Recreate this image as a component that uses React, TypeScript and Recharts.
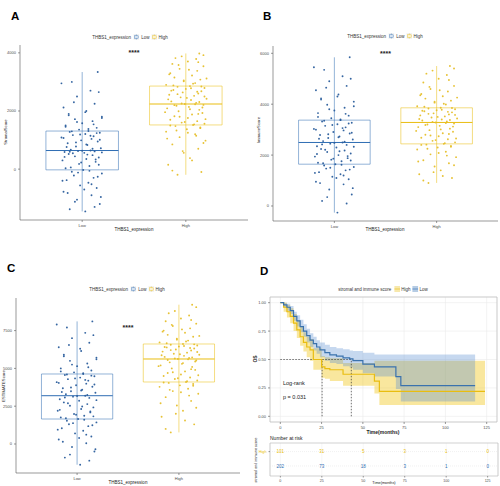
import {
  Area,
  CartesianGrid,
  ComposedChart,
  Line,
  ReferenceArea,
  ReferenceDot,
  ReferenceLine,
  Scatter,
  ScatterChart,
  XAxis,
  YAxis,
} from 'recharts';

const FONT = '"Liberation Sans", Arial, sans-serif';
const BLUE = '#2f6db3';
const BLUE_PT = '#2a5d9c';
const YELLOW = '#e9bd10';
const YELLOW_PT = '#e6bf2a';

const GROUPS = ['Low', 'High'];

// horizontal jitter of each point, in category units
const JIT_LOW = [0.03, -0.12, 0.17, -0.05, 0.09, -0.18, 0.14, -0.02, 0.06, -0.15, 0.11, -0.08, 0.19, -0.1, 0.01,
  -0.16, 0.07, -0.03, 0.13, -0.19, 0.04, 0.16, -0.07, 0.1, -0.13, 0.02, -0.17, 0.12, -0.04, 0.08,
  -0.11, 0.18, -0.06, 0.05, -0.14, 0.15, -0.01, 0.09, -0.2, 0.11, -0.09, 0.03, 0.17, -0.12, 0.06,
  -0.03, 0.14, -0.16, 0.0, 0.1, -0.07, 0.19, -0.13, 0.04, -0.18, 0.12, -0.05, 0.08, -0.1, 0.15,
  0.12, -0.07, 0.18, -0.14, 0.02, 0.09, -0.19, 0.15, -0.04, 0.07, -0.11, 0.16, -0.01, 0.13, -0.17,
  0.05, -0.09, 0.19, -0.12, 0.0, 0.1, -0.15, 0.04, -0.06, 0.17, -0.18, 0.08, -0.02, 0.14, -0.1,
  0.06, -0.16, 0.11, -0.05, 0.19, -0.13, 0.03, -0.08, 0.16, -0.2];
const JIT_HIGH = [-0.08, 0.15, -0.17, 0.04, -0.02, 0.12, -0.13, 0.19, -0.06, 0.09, -0.19, 0.01, 0.14, -0.1, 0.07,
  0.18, -0.04, 0.11, -0.15, 0.02, -0.11, 0.06, 0.16, -0.07, 0.13, -0.18, 0.03, -0.09, 0.17, -0.01,
  0.1, -0.14, 0.05, 0.2, -0.05, 0.08, -0.16, 0.12, -0.03, 0.15, -0.12, 0.0, 0.18, -0.08, 0.04,
  -0.19, 0.09, -0.02, 0.14, -0.11, 0.06, -0.15, 0.11, -0.06, 0.17, -0.13, 0.02, 0.1, -0.04, 0.13,
  -0.13, 0.06, -0.03, 0.17, -0.18, 0.1, 0.02, -0.09, 0.14, -0.15, 0.08, -0.01, 0.19, -0.06, 0.12,
  -0.2, 0.04, 0.16, -0.11, 0.09, -0.04, 0.13, -0.17, 0.01, 0.18, -0.08, 0.11, -0.14, 0.05, 0.15,
  -0.12, 0.07, -0.02, 0.2, -0.16, 0.03, -0.07, 0.12, -0.1, 0.17];

// StromalScore
const STROMAL_LOW = [-1455, -1380, -1200, -1050, -900, -780, -650, -560, -470, -380, -300, -220, -150, -90, -30,
  30, 110, 180, 250, 300, 350, 400, 440, 480, 520, 560, 590, 610, 625, 640,
  670, 720, 780, 830, 890, 950, 990, 1040, 1090, 1130, 1170, 1210, 1250, 1280, 1310,
  1360, 1420, 1500, 1580, 1650, 1720, 1800, 1900, 2000, 2120, 2250, 2500, 2700, 3000, 3340,
  -1300, -1120, -960, -820, -700, -520, -400, -260, -120, -60, 60, 150, 230, 330, 420, 500, 545, 575, 600, 630,
  700, 760, 850, 920, 1010, 1070, 1150, 1190, 1240, 1300, 1380, 1460, 1540, 1620, 1760, 1850, 1960, 2300, 2650, 2950];
const STROMAL_HIGH = [-195, -100, 150, 380, 560, 700, 850, 980, 1100, 1200, 1290, 1370, 1430, 1480, 1520,
  1560, 1600, 1650, 1700, 1760, 1820, 1880, 1930, 1990, 2040, 2090, 2140, 2180, 2210, 2240,
  2280, 2330, 2380, 2420, 2470, 2520, 2560, 2600, 2640, 2680, 2720, 2760, 2790, 2830, 2857,
  2900, 2960, 3020, 3080, 3150, 3220, 3300, 3380, 3450, 3540, 3620, 3700, 3790, 3880, 3980,
  -50, 300, 620, 900, 1050, 1150, 1250, 1330, 1410, 1500, 1540, 1620, 1720, 1800, 1900, 1960, 2060, 2120, 2200, 2230,
  2260, 2310, 2400, 2450, 2500, 2580, 2660, 2700, 2780, 2840, 2880, 2940, 3050, 3120, 3260, 3420, 3580, 3680, 3820, 3920];
const STROMAL_LOW_BOX = [-1455, -25, 640, 1310, 3340];
const STROMAL_HIGH_BOX = [-195, 1520, 2240, 2857, 3980];

// ImmuneScore
const IMMUNE_LOW = [-260, 200, 450, 650, 850, 950, 1050, 1150, 1250, 1330, 1400, 1470, 1530, 1590, 1642,
  1700, 1760, 1820, 1880, 1940, 2000, 2060, 2120, 2180, 2240, 2300, 2350, 2400, 2450, 2496,
  2550, 2610, 2670, 2730, 2790, 2850, 2910, 2970, 3030, 3090, 3150, 3210, 3270, 3320, 3374,
  3450, 3550, 3650, 3750, 3860, 3980, 4100, 4230, 4380, 4550, 4720, 4900, 5100, 5350, 5843,
  100, 350, 700, 900, 1100, 1200, 1300, 1430, 1500, 1620, 1680, 1790, 1860, 1960, 2040, 2150, 2210, 2330, 2420, 2480,
  2530, 2640, 2700, 2820, 2880, 3000, 3060, 3180, 3240, 3350, 3400, 3500, 3620, 3800, 3920, 4180, 4300, 4650, 5000, 5450];
const IMMUNE_HIGH = [906, 1100, 1250, 1400, 1550, 1680, 1800, 1920, 2030, 2130, 2220, 2300, 2360, 2410, 2441,
  2500, 2560, 2620, 2680, 2740, 2800, 2860, 2920, 2980, 3040, 3100, 3150, 3200, 3240, 3283,
  3320, 3360, 3400, 3440, 3480, 3520, 3560, 3600, 3640, 3680, 3720, 3760, 3800, 3830, 3858,
  3920, 3990, 4060, 4140, 4220, 4310, 4400, 4500, 4600, 4720, 4850, 5000, 5150, 5320, 5500,
  1000, 1180, 1330, 1600, 1750, 1980, 2080, 2250, 2330, 2400, 2470, 2590, 2650, 2770, 2830, 2950, 3010, 3120, 3180, 3260,
  3300, 3380, 3420, 3500, 3580, 3620, 3700, 3740, 3780, 3850, 3900, 4020, 4100, 4260, 4350, 4550, 4680, 4950, 5200, 5400];
const IMMUNE_LOW_BOX = [-260, 1642, 2496, 3374, 5843];
const IMMUNE_HIGH_BOX = [906, 2441, 3283, 3858, 5500];

// ESTIMATEScore
const ESTIMATE_LOW = [-1370, -900, -500, -200, 50, 300, 500, 700, 880, 1040, 1180, 1310, 1430, 1540, 1653,
  1760, 1870, 1980, 2090, 2200, 2310, 2420, 2530, 2640, 2750, 2860, 2960, 3050, 3130, 3194,
  3290, 3390, 3490, 3590, 3690, 3790, 3890, 3990, 4090, 4190, 4290, 4390, 4480, 4560, 4630,
  4740, 4860, 5000, 5150, 5320, 5500, 5700, 5900, 6150, 6400, 6700, 7000, 7350, 7700, 8108,
  -1100, -700, -350, 150, 400, 620, 950, 1240, 1380, 1600, 1700, 1830, 1930, 2150, 2260, 2480, 2700, 2900, 3080, 3170,
  3240, 3440, 3540, 3740, 3940, 4040, 4240, 4340, 4520, 4600, 4680, 4800, 5080, 5250, 5600, 5800, 6300, 6550, 7200, 7900];
const ESTIMATE_HIGH = [767, 1300, 1800, 2200, 2550, 2850, 3100, 3320, 3500, 3650, 3780, 3880, 3970, 4040, 4101,
  4200, 4300, 4400, 4500, 4600, 4700, 4800, 4900, 5000, 5100, 5200, 5300, 5400, 5520, 5622,
  5690, 5760, 5830, 5900, 5970, 6040, 6110, 6180, 6250, 6320, 6390, 6450, 6510, 6560, 6614,
  6720, 6840, 6960, 7090, 7220, 7360, 7500, 7650, 7800, 7960, 8120, 8300, 8500, 8800, 9213,
  1000, 1550, 2000, 2400, 2700, 3200, 3420, 3580, 3850, 4070, 4150, 4350, 4550, 4750, 4950, 5150, 5350, 5460, 5560, 5600,
  5650, 5730, 5870, 5940, 6080, 6210, 6350, 6420, 6480, 6590, 6660, 6780, 6900, 7150, 7430, 7580, 7880, 8200, 8650, 9050];
const ESTIMATE_LOW_BOX = [-1370, 1653, 3194, 4630, 8108];
const ESTIMATE_HIGH_BOX = [767, 4101, 5622, 6614, 9213];

// survival (OS) by stromal and immune score
const SURV_LOW_T = [0, 2, 4, 6, 8, 10, 12, 14, 16, 18, 20, 22, 24, 27, 30, 34, 38, 42, 44, 50, 57, 70, 73, 118];
const SURV_LOW_S = [1.0, 0.98, 0.96, 0.93, 0.88, 0.84, 0.79, 0.75, 0.71, 0.67, 0.64, 0.61, 0.585, 0.56, 0.54, 0.53, 0.515, 0.505, 0.49, 0.46, 0.435, 0.35, 0.27, 0.27];
const SURV_LOW_LO = [1.0, 0.96, 0.93, 0.9, 0.84, 0.79, 0.74, 0.7, 0.65, 0.61, 0.58, 0.55, 0.52, 0.49, 0.47, 0.46, 0.44, 0.43, 0.41, 0.38, 0.35, 0.24, 0.13, 0.13];
const SURV_LOW_HI = [1.0, 1.0, 0.99, 0.97, 0.92, 0.89, 0.85, 0.81, 0.77, 0.73, 0.7, 0.67, 0.65, 0.63, 0.61, 0.6, 0.59, 0.58, 0.575, 0.56, 0.545, 0.545, 0.545, 0.545];
const SURV_HIGH_T = [0, 2, 4, 6, 8, 10, 12, 14, 16, 18, 20, 25, 27, 30, 38, 57, 60, 124];
const SURV_HIGH_S = [1.0, 0.96, 0.92, 0.88, 0.82, 0.76, 0.7, 0.65, 0.61, 0.585, 0.5, 0.435, 0.42, 0.41, 0.37, 0.31, 0.22, 0.22];
const SURV_HIGH_LO = [1.0, 0.92, 0.87, 0.82, 0.75, 0.69, 0.62, 0.57, 0.52, 0.49, 0.41, 0.34, 0.33, 0.31, 0.27, 0.2, 0.1, 0.1];
const SURV_HIGH_HI = [1.0, 1.0, 0.98, 0.95, 0.9, 0.84, 0.79, 0.74, 0.7, 0.68, 0.6, 0.53, 0.52, 0.51, 0.47, 0.49, 0.49, 0.49];
const MEDIAN_TIMES = [25.3, 43];
const TIME_TICKS = [0, 25, 50, 75, 100, 125];
const RISK_HIGH = [101, 31, 5, 3, 1, 0];
const RISK_LOW = [202, 73, 18, 3, 1, 0];

const tickStyle = { fontSize: 4, fill: '#4d4d4d', fontFamily: FONT };
const axisLine = { stroke: '#555', strokeWidth: 0.6 };

function BoxKey({ color }: { color: string }) {
  return (
    <svg width={6} height={6} style={{ display: 'block' }}>
      <rect x={0} y={0} width={6} height={6} fill="#f2f2f2" />
      <line x1={3} y1={0.4} x2={3} y2={5.6} stroke={color} strokeWidth={0.4} />
      <rect x={1.2} y={1.8} width={3.6} height={2.4} fill="#fff" stroke={color} strokeWidth={0.4} />
      <line x1={1.2} y1={3} x2={4.8} y2={3} stroke={color} strokeWidth={0.4} />
    </svg>
  );
}

function FillKey({ color }: { color: string }) {
  return (
    <svg width={6} height={6} style={{ display: 'block' }}>
      <rect x={0} y={0} width={6} height={6} fill={color} fillOpacity={0.35} />
      <line x1={0} y1={3} x2={6} y2={3} stroke={color} strokeWidth={0.6} />
    </svg>
  );
}

function Legend({ x, y, title, items, fill }: { x: number; y: number; title: string; items: [string, string][]; fill?: boolean }) {
  return (
    <div style={{ position: 'absolute', left: x, top: y, transform: 'translate(-50%,-50%)', display: 'flex', alignItems: 'center', gap: 1.5, fontSize: 4.5, whiteSpace: 'nowrap', color: '#333' }}>
      <span style={{ marginRight: 1 }}>{title}</span>
      {items.map(([label, color]) => (
        <span key={label} style={{ display: 'flex', alignItems: 'center', gap: 1.5 }}>
          {fill ? <FillKey color={color} /> : <BoxKey color={color} />}
          <span>{label}</span>
        </span>
      ))}
    </div>
  );
}

function Txt({ x, y, children, size = 4.5, bold = false, rotate = false, anchor = 'center', color = '#222' }: any) {
  const tx = anchor === 'center' ? '-50%' : '0';
  return (
    <div style={{ position: 'absolute', left: x, top: y, transform: `translate(${tx},-50%)${rotate ? ' rotate(-90deg)' : ''}`, transformOrigin: anchor === 'center' ? 'center' : 'left center', fontSize: size, fontWeight: bold ? 700 : 400, whiteSpace: 'nowrap', color }}>
      {children}
    </div>
  );
}

function Letter({ x, y, children }: any) {
  return <div style={{ position: 'absolute', left: x, top: y, fontSize: 11.5, fontWeight: 700, lineHeight: 1 }}>{children}</div>;
}

const pointShape = (color: string) => (p: any) => <circle cx={p.cx} cy={p.cy} r={0.95} fill={color} fillOpacity={0.95} />;

function BoxPanel(props: any) {
  const { left, top, width, height, margin, yWidth, xHeight, domain, ticks, lowVals, highVals, lowBox, highBox, star, letter, letterPos, legendPos, yLabel, yLabelPos, xLabelPos } = props;
  const lowPts = lowVals.map((y: number, i: number) => ({ x: 1 + JIT_LOW[i], y }));
  const highPts = highVals.map((y: number, i: number) => ({ x: 2 + JIT_HIGH[i], y }));
  const boxes = [
    { b: lowBox, c: 1, color: BLUE },
    { b: highBox, c: 2, color: YELLOW },
  ];
  return (
    <div style={{ position: 'absolute', left, top, width, height }}>
      <ScatterChart width={width} height={height} margin={margin}>
        <XAxis type="number" dataKey="x" domain={[0.4, 2.6]} ticks={[1, 2]} tickFormatter={(v) => GROUPS[v - 1]} height={xHeight} tick={tickStyle} tickSize={2} axisLine={axisLine} tickLine={axisLine} allowDataOverflow />
        <YAxis type="number" dataKey="y" domain={domain} ticks={ticks} width={yWidth} tick={tickStyle} tickSize={2} axisLine={axisLine} tickLine={axisLine} allowDataOverflow />
        {boxes.map(({ b, c, color }) => (
          <ReferenceLine key={'w' + c} segment={[{ x: c, y: b[0] }, { x: c, y: b[4] }]} stroke={color} strokeWidth={0.7} strokeOpacity={0.75} />
        ))}
        {boxes.map(({ b, c, color }) => (
          <ReferenceArea key={'b' + c} x1={c - 0.35} x2={c + 0.35} y1={b[1]} y2={b[3]} fill="none" fillOpacity={0} stroke={color} strokeWidth={0.7} strokeOpacity={0.75} />
        ))}
        {boxes.map(({ b, c, color }) => (
          <ReferenceLine key={'m' + c} segment={[{ x: c - 0.35, y: b[2] }, { x: c + 0.35, y: b[2] }]} stroke={color} strokeWidth={1} />
        ))}
        <Scatter data={lowPts} shape={pointShape(BLUE_PT)} isAnimationActive={false} />
        <Scatter data={highPts} shape={pointShape(YELLOW_PT)} isAnimationActive={false} />
        <ReferenceDot x={1.5} y={star} r={0} label={{ value: '****', fontSize: 7, fontWeight: 700, fill: '#222', fontFamily: FONT }} />
      </ScatterChart>
      <Letter x={letterPos[0]} y={letterPos[1]}>{letter}</Letter>
      <Legend x={legendPos[0]} y={legendPos[1]} title="THBS1_expression" items={[['Low', BLUE], ['High', YELLOW]]} />
      <Txt x={yLabelPos[0]} y={yLabelPos[1]} rotate size={4.2}>{yLabel}</Txt>
      <Txt x={xLabelPos[0]} y={xLabelPos[1]}>THBS1_expression</Txt>
    </div>
  );
}

function SurvivalPanel() {
  const lowData = SURV_LOW_T.map((t, i) => ({ t, s: SURV_LOW_S[i], ci: [SURV_LOW_LO[i], SURV_LOW_HI[i]] }));
  const highData = SURV_HIGH_T.map((t, i) => ({ t, s: SURV_HIGH_S[i], ci: [SURV_HIGH_LO[i], SURV_HIGH_HI[i]] }));
  const dash = { stroke: '#333', strokeWidth: 0.7, strokeDasharray: '1.5 1.5' };
  return (
    <div style={{ position: 'absolute', left: 250, top: 240, width: 250, height: 200 }}>
      <ComposedChart width={250} height={200} margin={{ top: 57, right: 3, left: 0, bottom: 8 }}>
        <CartesianGrid stroke="#ebebeb" strokeWidth={0.6} />
        <XAxis type="number" dataKey="t" domain={[-6.25, 131.25]} ticks={TIME_TICKS} height={10} tick={tickStyle} tickSize={2} axisLine={false} tickLine={axisLine} allowDataOverflow />
        <YAxis type="number" domain={[-0.05, 1.05]} ticks={[0, 0.25, 0.5, 0.75, 1]} tickFormatter={(v) => v.toFixed(2)} width={20} tick={tickStyle} tickSize={2} axisLine={false} tickLine={axisLine} allowDataOverflow />
        <Area data={highData} dataKey="ci" type="stepAfter" fill="#efc000" fillOpacity={0.38} stroke="none" isAnimationActive={false} />
        <Area data={lowData} dataKey="ci" type="stepAfter" fill="#5b8fd0" fillOpacity={0.35} stroke="none" isAnimationActive={false} />
        <ReferenceLine segment={[{ x: 0, y: 0.5 }, { x: MEDIAN_TIMES[1], y: 0.5 }]} {...dash} />
        {MEDIAN_TIMES.map((m) => (
          <ReferenceLine key={m} segment={[{ x: m, y: 0 }, { x: m, y: 0.5 }]} {...dash} />
        ))}
        <Line data={highData} dataKey="s" type="stepAfter" stroke={YELLOW} strokeWidth={1.2} dot={false} isAnimationActive={false} />
        <Line data={lowData} dataKey="s" type="stepAfter" stroke="#3a72ad" strokeWidth={1.2} dot={false} isAnimationActive={false} />
        <ReferenceArea x1={-6.25} x2={131.25} y1={-0.05} y2={1.05} fill="none" fillOpacity={0} stroke="#bdbdbd" strokeWidth={0.7} />
      </ComposedChart>
      <Letter x={10} y={26}>D</Letter>
      <Legend x={133} y={49} title="stromal and immune score" items={[['High', YELLOW], ['Low', BLUE]]} fill />
      <Txt x={5} y={119} rotate bold size={5}>OS</Txt>
      <Txt x={133} y={192} bold size={5}>Time(months)</Txt>
      <Txt x={33} y={143} anchor="left" size={5.5}>Log-rank</Txt>
      <Txt x={33} y={157} anchor="left" size={5.5}>p = 0.031</Txt>
    </div>
  );
}

function RiskTable() {
  const rows = [
    ...RISK_HIGH.map((n, i) => ({ t: TIME_TICKS[i], y: 2, n, c: YELLOW })),
    ...RISK_LOW.map((n, i) => ({ t: TIME_TICKS[i], y: 1, n, c: BLUE })),
  ];
  const rowTick = (p: any) => (
    <text x={p.x} y={p.y} dy="0.35em" textAnchor="end" fontSize={3.8} fontFamily={FONT} fill={p.payload.value === 2 ? YELLOW : BLUE}>
      {p.payload.value === 2 ? 'High' : 'Low'}
    </text>
  );
  return (
    <div style={{ position: 'absolute', left: 250, top: 440, width: 250, height: 46 }}>
      <ScatterChart width={250} height={46} margin={{ top: 3, right: 2, left: 0, bottom: 0 }}>
        <CartesianGrid stroke="#eeeeee" strokeWidth={0.5} horizontal={false} />
        <XAxis type="number" dataKey="t" domain={[-6.25, 131.25]} ticks={TIME_TICKS} height={10} tick={{ ...tickStyle, fontSize: 3.6 }} tickSize={1.5} axisLine={false} tickLine={axisLine} allowDataOverflow />
        <YAxis type="number" dataKey="y" domain={[0.3, 2.6]} ticks={[1, 2]} width={20} tick={rowTick} tickSize={1.5} axisLine={false} tickLine={axisLine} allowDataOverflow />
        <ReferenceLine y={2} stroke="#e3e3e3" strokeWidth={0.5} strokeDasharray="1 1" />
        <ReferenceLine y={1} stroke="#e3e3e3" strokeWidth={0.5} strokeDasharray="1 1" />
        <Scatter
          data={rows}
          isAnimationActive={false}
          shape={(p: any) => (
            <text x={p.cx} y={p.cy} dy="0.35em" textAnchor="middle" fontSize={4.5} fontFamily={FONT} fill={p.payload.c}>
              {p.payload.n}
            </text>
          )}
        />
        <ReferenceArea x1={-6.25} x2={131.25} y1={0.3} y2={2.6} fill="none" fillOpacity={0} stroke="#bdbdbd" strokeWidth={0.7} />
      </ScatterChart>
      <Txt x={20} y={-2} anchor="left" size={5}>Number at risk</Txt>
      <Txt x={6} y={20} rotate size={3.8}>stromal and immune score</Txt>
      <Txt x={134} y={43} size={3.8}>Time(months)</Txt>
    </div>
  );
}

export default function App() {
  return (
    <div style={{ position: 'fixed', left: 0, top: 0, width: 500, height: 486, background: '#fff', fontFamily: FONT, overflow: 'hidden' }}>
      <BoxPanel
        left={0} top={0} width={250} height={240}
        margin={{ top: 45, right: 2, left: 0, bottom: 0 }} yWidth={20} xHeight={20}
        domain={[-1750, 4270]} ticks={[0, 2000, 4000]}
        lowVals={STROMAL_LOW} highVals={STROMAL_HIGH} lowBox={STROMAL_LOW_BOX} highBox={STROMAL_HIGH_BOX}
        star={4000} letter="A" letterPos={[11, 11]} legendPos={[130, 37]}
        yLabel="StromalScore" yLabelPos={[5, 132]} xLabelPos={[134, 229]}
      />
      <BoxPanel
        left={250} top={0} width={250} height={240}
        margin={{ top: 46, right: 2, left: 3, bottom: 0 }} yWidth={20} xHeight={19}
        domain={[-590, 6287]} ticks={[0, 2000, 4000, 6000]}
        lowVals={IMMUNE_LOW} highVals={IMMUNE_HIGH} lowBox={IMMUNE_LOW_BOX} highBox={IMMUNE_HIGH_BOX}
        star={6000} letter="B" letterPos={[13, 11]} legendPos={[135, 36]}
        yLabel="ImmuneScore" yLabelPos={[8, 130]} xLabelPos={[135, 229]}
      />
      <BoxPanel
        left={0} top={240} width={250} height={246}
        margin={{ top: 58, right: 10, left: 0, bottom: 0 }} yWidth={16} xHeight={13}
        domain={[-1918, 9656]} ticks={[0, 2500, 5000, 7500]}
        lowVals={ESTIMATE_LOW} highVals={ESTIMATE_HIGH} lowBox={ESTIMATE_LOW_BOX} highBox={ESTIMATE_HIGH_BOX}
        star={7690} letter="C" letterPos={[7, 23]} legendPos={[127, 49]}
        yLabel="ESTIMATEScore" yLabelPos={[3, 146]} xLabelPos={[128, 242]}
      />
      <SurvivalPanel />
      <RiskTable />
    </div>
  );
}
